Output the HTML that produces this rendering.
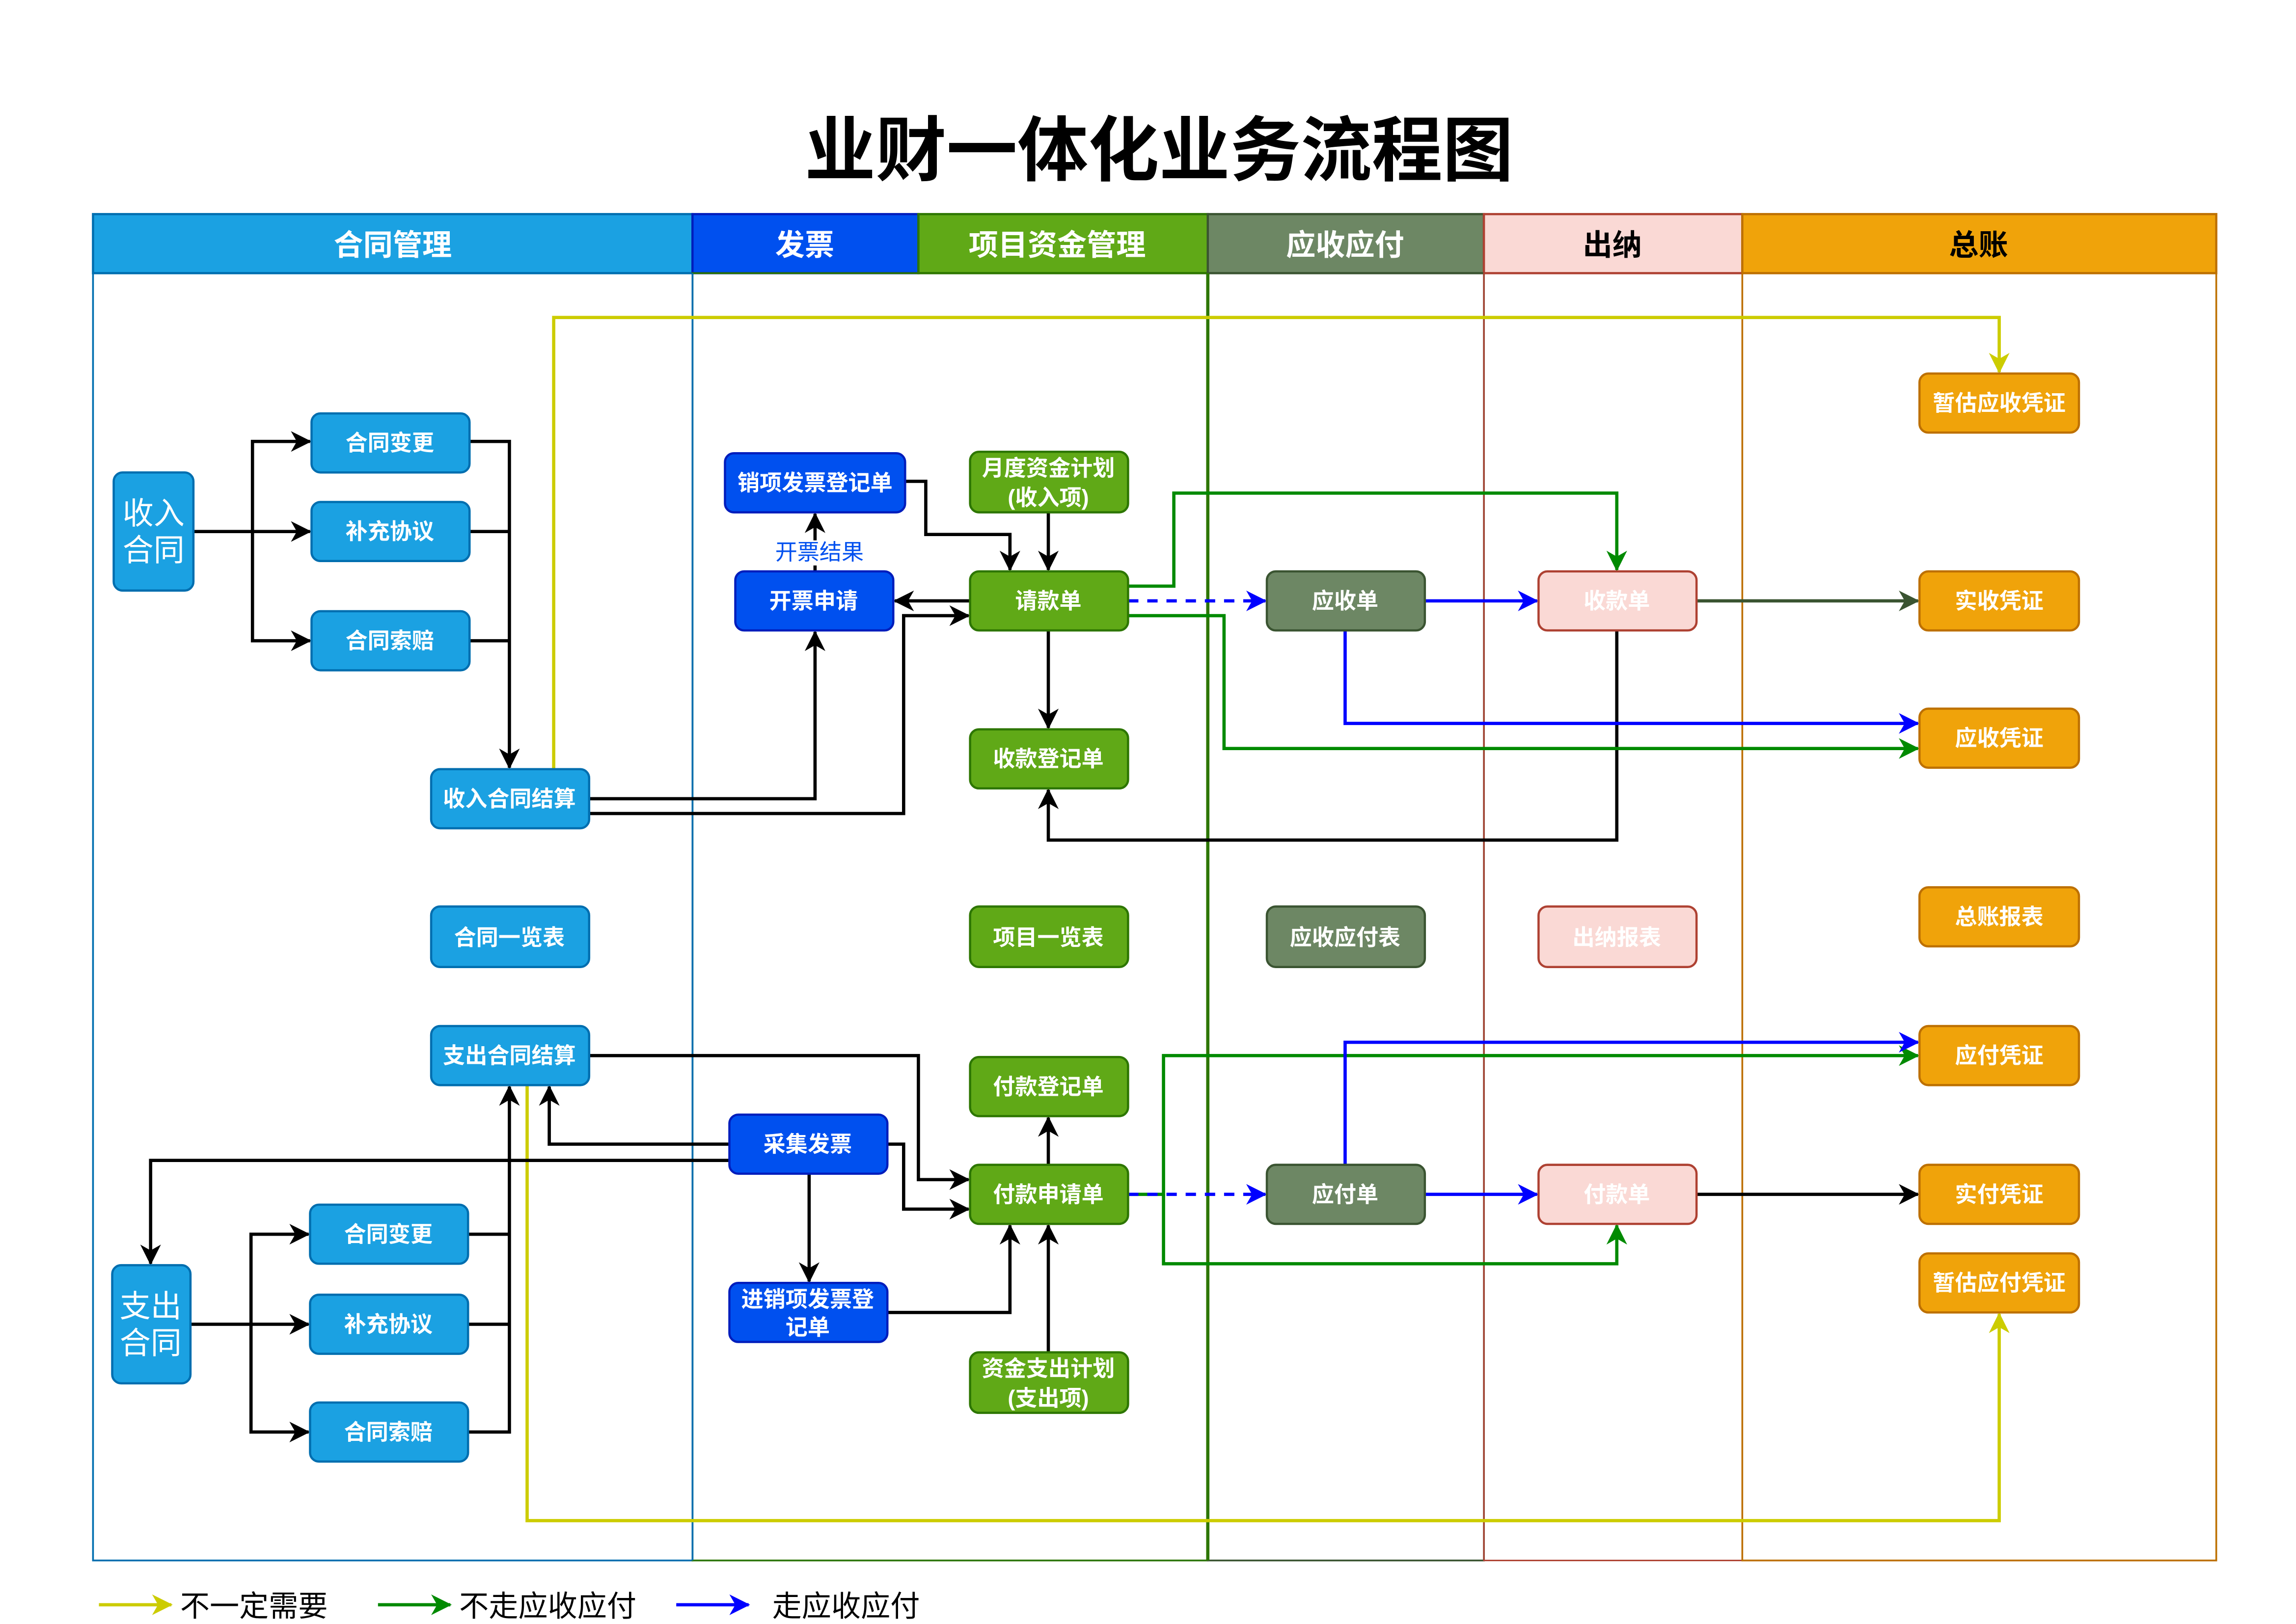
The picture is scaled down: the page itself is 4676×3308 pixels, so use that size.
<!DOCTYPE html>
<html><head><meta charset="utf-8"><style>
html,body{margin:0;padding:0;background:#fff;}
svg{display:block;}
text{font-family:"Liberation Sans","Noto Sans CJK SC",sans-serif;}
.n{font-weight:bold;font-size:15px;fill:#fff;text-anchor:middle;dominant-baseline:central;}
.h{font-weight:bold;font-size:20px;fill:#fff;text-anchor:middle;dominant-baseline:central;}
</style></head><body>
<svg width="4676" height="3308" viewBox="0 0 1555 1100" xmlns="http://www.w3.org/2000/svg">
<defs>
<marker id="ak" markerUnits="userSpaceOnUse" markerWidth="14" markerHeight="14" viewBox="0 0 14 14" refX="13" refY="7" orient="auto"><path d="M0,0 L14,7 L0,14 L4,7 z" fill="#000"/></marker>
<marker id="ay" markerUnits="userSpaceOnUse" markerWidth="14" markerHeight="14" viewBox="0 0 14 14" refX="13" refY="7" orient="auto"><path d="M0,0 L14,7 L0,14 L4,7 z" fill="#cccc00"/></marker>
<marker id="ag" markerUnits="userSpaceOnUse" markerWidth="14" markerHeight="14" viewBox="0 0 14 14" refX="13" refY="7" orient="auto"><path d="M0,0 L14,7 L0,14 L4,7 z" fill="#008a00"/></marker>
<marker id="ab" markerUnits="userSpaceOnUse" markerWidth="14" markerHeight="14" viewBox="0 0 14 14" refX="13" refY="7" orient="auto"><path d="M0,0 L14,7 L0,14 L4,7 z" fill="#0000ff"/></marker>
<marker id="ad" markerUnits="userSpaceOnUse" markerWidth="14" markerHeight="14" viewBox="0 0 14 14" refX="13" refY="7" orient="auto"><path d="M0,0 L14,7 L0,14 L4,7 z" fill="#3a5431"/></marker>
</defs>
<rect width="1555" height="1100" fill="#fff"/>
<text x="785" y="102" text-anchor="middle" dominant-baseline="central" font-size="48" font-weight="bold" fill="#000">业财一体化业务流程图</text>

<!-- lanes -->
<rect x="63" y="145" width="406" height="40" fill="#1ba1e2" stroke="#006eaf" stroke-width="1.5"/>
<rect x="469" y="145" width="153" height="40" fill="#0050ef" stroke="#001dbc" stroke-width="1.5"/>
<rect x="622" y="145" width="196" height="40" fill="#60a917" stroke="#2d7600" stroke-width="1.5"/>
<rect x="818" y="145" width="187" height="40" fill="#6d8764" stroke="#3a5431" stroke-width="1.5"/>
<rect x="1005" y="145" width="175" height="40" fill="#fad9d5" stroke="#ae4132" stroke-width="1.5"/>
<rect x="1180" y="145" width="321" height="40" fill="#f0a30a" stroke="#bd7000" stroke-width="1.5"/>
<text class="h" x="266" y="166">合同管理</text>
<text class="h" x="545" y="166">发票</text>
<text class="h" x="716" y="166">项目资金管理</text>
<text class="h" x="911" y="166">应收应付</text>
<text class="h" x="1092" y="166" fill="#000" style="fill:#000">出纳</text>
<text class="h" x="1340" y="166" style="fill:#000">总账</text>
<rect x="63" y="185" width="406" height="872" fill="none" stroke="#006eaf" stroke-width="1.2"/>
<rect x="469" y="185" width="349" height="872" fill="none" stroke="#2d7600" stroke-width="1.2"/>
<line x1="469" y1="185" x2="469" y2="1057" stroke="#006eaf" stroke-width="1.2"/>
<rect x="818" y="185" width="187" height="872" fill="none" stroke="#3a5431" stroke-width="1.2"/>
<line x1="818" y1="185" x2="818" y2="1057" stroke="#2d7600" stroke-width="2.2"/>
<rect x="1005" y="185" width="175" height="872" fill="none" stroke="#ae4132" stroke-width="1"/>
<rect x="1180" y="185" width="321" height="872" fill="none" stroke="#bd7000" stroke-width="1.2"/>

<!-- edges -->
<g fill="none" stroke-width="2.2">
<path d="M375,521 V215 H1354 V252" stroke="#cccc00" marker-end="url(#ay)"/>
<path d="M357,735 V1030 H1354 V890" stroke="#cccc00" marker-end="url(#ay)"/>
<g stroke="#000">
<path d="M131,360 H171 V299 H210" marker-end="url(#ak)"/>
<path d="M171,360 H210" marker-end="url(#ak)"/>
<path d="M171,360 V434 H210" marker-end="url(#ak)"/>
<path d="M318,299 H345 V520" marker-end="url(#ak)"/>
<path d="M318,360 H345"/><path d="M318,434 H345"/>
<path d="M399,541 H552 V428" marker-end="url(#ak)"/>
<path d="M399,551 H612 V417 H656" marker-end="url(#ak)"/>
<path d="M657,407 H606" marker-end="url(#ak)"/>
<path d="M552,387 V348" marker-end="url(#ak)"/>
<path d="M613,326 H627 V362 H684 V386" marker-end="url(#ak)"/>
<path d="M710,347 V386" marker-end="url(#ak)"/>
<path d="M710,427 V493" marker-end="url(#ak)"/>
<path d="M1095,427 V569 H710 V535" marker-end="url(#ak)"/>
<path d="M399,715 H622 V799 H656" marker-end="url(#ak)"/>
<path d="M601,775 H612 V819 H656" marker-end="url(#ak)"/>
<path d="M494,775 H372 V736" marker-end="url(#ak)"/>
<path d="M494,786 H102 V856" marker-end="url(#ak)"/>
<path d="M548,795 V868" marker-end="url(#ak)"/>
<path d="M601,889 H684 V830" marker-end="url(#ak)"/>
<path d="M710,916 V830" marker-end="url(#ak)"/>
<path d="M710,789 V757" marker-end="url(#ak)"/>
<path d="M129,897 H170 V836 H209" marker-end="url(#ak)"/>
<path d="M170,897 H209" marker-end="url(#ak)"/>
<path d="M170,897 V970 H209" marker-end="url(#ak)"/>
<path d="M317,970 H345 V736" marker-end="url(#ak)"/>
<path d="M317,836 H345"/><path d="M317,897 H345"/>
<path d="M1149,809 H1299" marker-end="url(#ak)"/>
</g>
<path d="M1149,407 H1299" stroke="#3a5431" marker-end="url(#ad)"/>
<g stroke="#008a00">
<path d="M764,397 H795 V334 H1095 V386" marker-end="url(#ag)"/>
<path d="M764,417 H829 V507 H1299" marker-end="url(#ag)"/>
<path d="M764,809 H788 V715 H1299" marker-end="url(#ag)"/>
<path d="M788,809 V856 H1095 V830" marker-end="url(#ag)"/>
</g>
<g stroke="#0000ff">
<path d="M764,407 H857" stroke-dasharray="7,6" marker-end="url(#ab)"/>
<path d="M764,809 H857" stroke-dasharray="7,6" marker-end="url(#ab)"/>
<path d="M965,407 H1041" marker-end="url(#ab)"/>
<path d="M965,809 H1041" marker-end="url(#ab)"/>
<path d="M911,427 V490 H1299" marker-end="url(#ab)"/>
<path d="M911,789 V706 H1299" marker-end="url(#ab)"/>
</g>
</g>
<rect x="522" y="366" width="66" height="17" fill="#fff"/>
<text x="555" y="374" text-anchor="middle" dominant-baseline="central" font-size="15" fill="#0050ef">开票结果</text>

<!-- nodes -->
<g stroke-width="1.5">
<g fill="#1ba1e2" stroke="#006eaf">
<rect x="77" y="320" width="54" height="80" rx="6"/>
<rect x="211" y="280" width="107" height="40" rx="6"/>
<rect x="211" y="340" width="107" height="40" rx="6"/>
<rect x="211" y="414" width="107" height="40" rx="6"/>
<rect x="292" y="521" width="107" height="40" rx="6"/>
<rect x="292" y="614" width="107" height="41" rx="6"/>
<rect x="292" y="695" width="107" height="40" rx="6"/>
<rect x="76" y="857" width="53" height="80" rx="6"/>
<rect x="210" y="816" width="107" height="40" rx="6"/>
<rect x="210" y="877" width="107" height="40" rx="6"/>
<rect x="210" y="950" width="107" height="40" rx="6"/>
</g>
<g fill="#0050ef" stroke="#001dbc">
<rect x="491" y="307" width="122" height="40" rx="6"/>
<rect x="498" y="387" width="107" height="40" rx="6"/>
<rect x="494" y="755" width="107" height="40" rx="6"/>
<rect x="494" y="869" width="107" height="40" rx="6"/>
</g>
<g fill="#60a917" stroke="#2d7600">
<rect x="657" y="306" width="107" height="41" rx="6"/>
<rect x="657" y="387" width="107" height="40" rx="6"/>
<rect x="657" y="494" width="107" height="40" rx="6"/>
<rect x="657" y="614" width="107" height="41" rx="6"/>
<rect x="657" y="716" width="107" height="40" rx="6"/>
<rect x="657" y="789" width="107" height="40" rx="6"/>
<rect x="657" y="916" width="107" height="41" rx="6"/>
</g>
<g fill="#6d8764" stroke="#3a5431">
<rect x="858" y="387" width="107" height="40" rx="6"/>
<rect x="858" y="614" width="107" height="41" rx="6"/>
<rect x="858" y="789" width="107" height="40" rx="6"/>
</g>
<g fill="#fad9d5" stroke="#ae4132">
<rect x="1042" y="387" width="107" height="40" rx="6"/>
<rect x="1042" y="614" width="107" height="41" rx="6"/>
<rect x="1042" y="789" width="107" height="40" rx="6"/>
</g>
<g fill="#f0a30a" stroke="#bd7000">
<rect x="1300" y="253" width="108" height="40" rx="6"/>
<rect x="1300" y="387" width="108" height="40" rx="6"/>
<rect x="1300" y="480" width="108" height="40" rx="6"/>
<rect x="1300" y="601" width="108" height="40" rx="6"/>
<rect x="1300" y="695" width="108" height="40" rx="6"/>
<rect x="1300" y="789" width="108" height="40" rx="6"/>
<rect x="1300" y="849" width="108" height="40" rx="6"/>
</g>
</g>
<g>
<text x="104" y="348" font-size="21" fill="#fff" text-anchor="middle" dominant-baseline="central">收入</text>
<text x="104" y="373" font-size="21" fill="#fff" text-anchor="middle" dominant-baseline="central">合同</text>
<text x="102" y="885" font-size="21" fill="#fff" text-anchor="middle" dominant-baseline="central">支出</text>
<text x="102" y="910" font-size="21" fill="#fff" text-anchor="middle" dominant-baseline="central">合同</text>
<text class="n" x="264" y="300">合同变更</text>
<text class="n" x="264" y="360">补充协议</text>
<text class="n" x="264" y="434">合同索赔</text>
<text class="n" x="345" y="541">收入合同结算</text>
<text class="n" x="345" y="635">合同一览表</text>
<text class="n" x="345" y="715">支出合同结算</text>
<text class="n" x="263" y="836">合同变更</text>
<text class="n" x="263" y="897">补充协议</text>
<text class="n" x="263" y="970">合同索赔</text>
<text class="n" x="552" y="327">销项发票登记单</text>
<text class="n" x="551" y="407">开票申请</text>
<text class="n" x="547" y="775">采集发票</text>
<text class="n" x="547" y="880">进销项发票登</text>
<text class="n" x="547" y="899">记单</text>
<text class="n" x="710" y="317">月度资金计划</text>
<text class="n" x="710" y="337">(收入项)</text>
<text class="n" x="710" y="407">请款单</text>
<text class="n" x="710" y="514">收款登记单</text>
<text class="n" x="710" y="635">项目一览表</text>
<text class="n" x="710" y="736">付款登记单</text>
<text class="n" x="710" y="809">付款申请单</text>
<text class="n" x="710" y="927">资金支出计划</text>
<text class="n" x="710" y="947">(支出项)</text>
<text class="n" x="911" y="407">应收单</text>
<text class="n" x="911" y="635">应收应付表</text>
<text class="n" x="911" y="809">应付单</text>
<text class="n" x="1095" y="407">收款单</text>
<text class="n" x="1095" y="635">出纳报表</text>
<text class="n" x="1095" y="809">付款单</text>
<text class="n" x="1354" y="273">暂估应收凭证</text>
<text class="n" x="1354" y="407">实收凭证</text>
<text class="n" x="1354" y="500">应收凭证</text>
<text class="n" x="1354" y="621">总账报表</text>
<text class="n" x="1354" y="715">应付凭证</text>
<text class="n" x="1354" y="809">实付凭证</text>
<text class="n" x="1354" y="869">暂估应付凭证</text>
</g>

<!-- legend -->
<g fill="none" stroke-width="2.2">
<path d="M67,1087 H116" stroke="#cccc00" marker-end="url(#ay)"/>
<path d="M256,1087 H305" stroke="#008a00" marker-end="url(#ag)"/>
<path d="M458,1087 H507" stroke="#0000ff" marker-end="url(#ab)"/>
</g>
<text x="122" y="1088" font-size="20" dominant-baseline="central" fill="#000">不一定需要</text>
<text x="311" y="1088" font-size="20" dominant-baseline="central" fill="#000">不走应收应付</text>
<text x="523" y="1088" font-size="20" dominant-baseline="central" fill="#000">走应收应付</text>
</svg>
</body></html>
